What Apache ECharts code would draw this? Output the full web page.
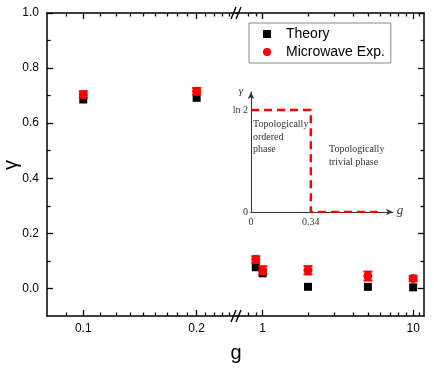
<!DOCTYPE html>
<html><head><meta charset="utf-8">
<script src="https://cdn.jsdelivr.net/npm/echarts@6/dist/echarts.min.js"></script>
<style>html,body{margin:0;padding:0;background:#fff}#c{width:434px;height:369px}</style>
</head><body><div id="c"></div>
<script>
// ---- data ----
const gValues    = [0.1, 0.2, 0.9, 1, 2, 5, 10];
const theory     = [0.686, 0.692, 0.077, 0.055, 0.006, 0.006, 0.004];
const experiment = [0.704, 0.716, 0.105, 0.066, 0.066, 0.045, 0.036];
const expError   = [0.012, 0.012, 0.012, 0.015, 0.015, 0.016, 0.010];
const breakAt = 0.5; // g values below go in left segment
const yMajorTicks = [0, 0.2, 0.4, 0.6, 0.8, 1.0];
const yMinorTicks = [0.1, 0.3, 0.5, 0.7, 0.9];
const leftXMajor = [0.1, 0.2];
const leftXMinor = [0.09, 0.1111, 0.1222, 0.1333, 0.1444, 0.1556, 0.1667, 0.1778, 0.1889, 0.2111, 0.2222, 0.2333, 0.2444];
const rightXMajor = [1, 10];
const rightXMinor = [0.8, 0.9, 2, 3, 4, 5, 6, 7, 8, 9, 11];
// inset: phase diagram
const insetG     = [0, 0.34, 0.34, 0.75];
const insetGamma = [0.693, 0.693, 0, 0];
const insetXTicks = [0, 0.34];
const insetYTicks = [0, 0.693];
const insetYLabels = ['0', 'ln 2'];

const RED = '#ff0000';
const AX = '#000';
const FONT = 'Liberation Sans, Arial, sans-serif';
const SERIF = 'Liberation Serif, Times New Roman, serif';

const chart = echarts.init(document.getElementById('c'), null, {renderer: 'canvas'});

function xAxis(grid, pos, min, max, ticks, len, showLine, labels) {
  return {
    type: 'log', gridIndex: grid, position: pos, min: min, max: max, logBase: 10,
    axisLine: {show: showLine, onZero: false, lineStyle: {color: AX, width: 1.5}},
    axisTick: {show: true, inside: true, length: len, customValues: ticks, lineStyle: {color: AX, width: 1.3}},
    axisLabel: labels ? {show: true, customValues: ticks, margin: 7, color: '#000', fontSize: 12, fontFamily: FONT,
      formatter: v => String(+v.toPrecision(3))} : {show: false},
    splitLine: {show: false}, minorTick: {show: false}
  };
}
function yAxis(grid, pos, ticks, len, showLine, labels) {
  return {
    type: 'value', gridIndex: grid, position: pos, min: -0.1, max: 1.0,
    axisLine: {show: showLine, onZero: false, lineStyle: {color: AX, width: 1.5}},
    axisTick: {show: true, inside: true, length: len, customValues: ticks, lineStyle: {color: AX, width: 1.3}},
    axisLabel: labels ? {show: true, customValues: ticks, margin: 8, color: '#000', fontSize: 12, fontFamily: FONT,
      formatter: v => (+v).toFixed(1)} : {show: false},
    splitLine: {show: false}
  };
}

const L = [0.0801, 0.256], R = [0.675, 11.8];
const xAxes = [
  xAxis(0, 'bottom', L[0], L[1], leftXMajor, 6, true, true),
  xAxis(0, 'bottom', L[0], L[1], leftXMinor, 3.5, false, false),
  xAxis(0, 'top', L[0], L[1], leftXMajor, 6, true, false),
  xAxis(0, 'top', L[0], L[1], leftXMinor, 3.5, false, false),
  xAxis(1, 'bottom', R[0], R[1], rightXMajor, 6, true, true),
  xAxis(1, 'bottom', R[0], R[1], rightXMinor, 3.5, false, false),
  xAxis(1, 'top', R[0], R[1], rightXMajor, 6, true, false),
  xAxis(1, 'top', R[0], R[1], rightXMinor, 3.5, false, false),
  { type: 'value', gridIndex: 2, min: 0, max: 0.807,
    axisLine: {show: true, symbol: ['none', 'arrow'], symbolSize: [5, 7], lineStyle: {color: '#333', width: 1}},
    axisTick: {show: false}, splitLine: {show: false},
    axisLabel: {show: true, customValues: insetXTicks, margin: 5, color: '#333', fontSize: 10, fontFamily: SERIF,
      formatter: v => String(v)} }
];
const yAxes = [
  yAxis(0, 'left', yMajorTicks, 6, true, true),
  yAxis(0, 'left', yMinorTicks, 3.5, false, false),
  yAxis(1, 'right', yMajorTicks, 6, true, false),
  yAxis(1, 'right', yMinorTicks, 3.5, false, false),
  { type: 'value', gridIndex: 2, min: 0, max: 0.815,
    axisLine: {show: true, symbol: ['none', 'arrow'], symbolSize: [5, 7], lineStyle: {color: '#333', width: 1}},
    axisTick: {show: false}, splitLine: {show: false},
    axisLabel: {show: true, customValues: insetYTicks, margin: 3, color: '#333', fontSize: 10, fontFamily: SERIF,
      formatter: v => insetYLabels[insetYTicks.indexOf(+v)] || ''} }
];

function idx(left) { return gValues.map((g, i) => i).filter(i => left ? gValues[i] < breakAt : gValues[i] >= breakAt); }

function errSeries(left) {
  return {
    type: 'custom', name: 'err', xAxisIndex: left ? 0 : 4, yAxisIndex: left ? 0 : 2, z: 4,
    data: idx(left).map(i => [gValues[i], experiment[i], expError[i]]),
    renderItem: function (params, api) {
      const x = api.value(0), y = api.value(1), e = api.value(2);
      const t = api.coord([x, y + e]), b = api.coord([x, y - e]);
      const w = 4.5;
      const st = {stroke: RED, lineWidth: 2};
      return {type: 'group', children: [
        {type: 'line', shape: {x1: t[0], y1: t[1], x2: b[0], y2: b[1]}, style: st},
        {type: 'line', shape: {x1: t[0] - w, y1: t[1], x2: t[0] + w, y2: t[1]}, style: st},
        {type: 'line', shape: {x1: b[0] - w, y1: b[1], x2: b[0] + w, y2: b[1]}, style: st}
      ]};
    }
  };
}
function theorySeries(left) {
  return {type: 'scatter', name: 'Theory', xAxisIndex: left ? 0 : 4, yAxisIndex: left ? 0 : 2, z: 3,
    symbol: 'rect', symbolSize: 8, itemStyle: {color: '#000', opacity: 1},
    data: idx(left).map(i => [gValues[i], theory[i]])};
}
function expSeries(left) {
  return {type: 'scatter', name: 'Microwave Exp.', xAxisIndex: left ? 0 : 4, yAxisIndex: left ? 0 : 2, z: 5,
    symbol: 'circle', symbolSize: 9, itemStyle: {color: RED, opacity: 1},
    data: idx(left).map(i => [gValues[i], experiment[i]])};
}

const slash = (x1, y1, x2, y2) => ({type: 'line', shape: {x1, y1, x2, y2}, style: {stroke: '#000', lineWidth: 1.4}, z: 100});

const option = {
  backgroundColor: '#fff',
  animation: false,
  grid: [
    {left: 47, top: 13, width: 190, height: 303},
    {left: 237, top: 13, width: 187, height: 303},
    {left: 251, top: 92, width: 142, height: 120}
  ],
  xAxis: xAxes,
  yAxis: yAxes,
  legend: {
    orient: 'vertical', left: 249, top: 23, padding: [4, 6, 4, 14], itemGap: 4,
    itemWidth: 8, itemHeight: 8, borderColor: '#888', borderWidth: 1,
    textStyle: {fontSize: 14, fontFamily: FONT, color: '#000', padding: [0, 0, 0, 10]},
    data: [{name: 'Theory', icon: 'rect'}, {name: 'Microwave Exp.', icon: 'circle'}]
  },
  series: [
    theorySeries(true), theorySeries(false),
    errSeries(true), errSeries(false),
    expSeries(true), expSeries(false),
    {type: 'line', name: 'phase', xAxisIndex: 8, yAxisIndex: 4, showSymbol: false, symbol: 'none',
     lineStyle: {color: RED, width: 2.5, type: [8, 5]},
     data: insetG.map((g, i) => [g, insetGamma[i]])}
  ],
  graphic: [
    {type: 'text', x: 236, y: 353, style: {text: 'g', font: '20px ' + FONT, fill: '#000', align: 'center', verticalAlign: 'middle'}},
    {type: 'text', x: 11, y: 165, rotation: Math.PI / 2, style: {text: 'γ', font: '20px ' + FONT, fill: '#000', align: 'center', verticalAlign: 'middle'}},
    {type: 'text', x: 241, y: 91, style: {text: 'γ', font: 'italic 11px ' + SERIF, fill: '#333', align: 'center', verticalAlign: 'middle'}},
    {type: 'text', x: 400, y: 211, style: {text: 'g', font: 'italic 13px ' + SERIF, fill: '#333', align: 'center', verticalAlign: 'middle'}},
    {type: 'text', x: 253, y: 137, style: {text: 'Topologically\nordered\nphase', font: '10px ' + SERIF, lineHeight: 12.5, fill: '#333', verticalAlign: 'middle'}},
    {type: 'text', x: 329, y: 156, style: {text: 'Topologically\ntrivial phase', font: '10px ' + SERIF, lineHeight: 12.5, fill: '#333', verticalAlign: 'middle'}},
    slash(231, 322, 236, 310), slash(236, 322, 241, 310),
    slash(231, 19, 236, 7), slash(236, 19, 241, 7)
  ]
};
chart.setOption(option);
</script></body></html>
